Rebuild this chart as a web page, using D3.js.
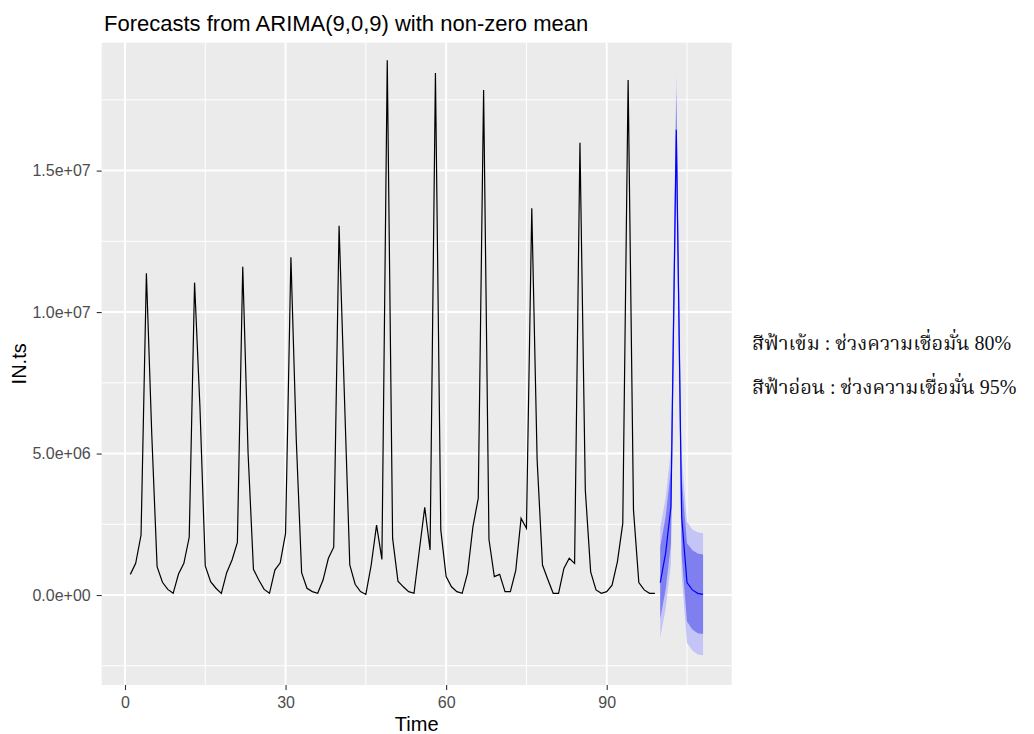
<!DOCTYPE html>
<html>
<head>
<meta charset="utf-8">
<script src="https://cdn.jsdelivr.net/npm/d3@7"></script>
<style>
  body { margin: 0; background: #fff; }
  text { font-family: "Liberation Sans", Arial, sans-serif; }
</style>
</head>
<body>
<script>
// observed series IN.ts (t = 1..99), seasonal with period 9
const observed = [
  730000, 1120000, 2120000, 11370000, 5700000, 1000000, 450000, 200000, 60000,
  740000, 1120000, 2040000, 11040000, 6660000, 1030000, 470000, 240000, 60000,
  790000, 1240000, 1860000, 11600000, 5000000, 910000, 530000, 200000, 60000,
  880000, 1140000, 2180000, 11940000, 5500000, 790000, 240000, 120000, 60000,
  530000, 1300000, 1690000, 13050000, 7000000, 1060000, 380000, 120000, 20000,
  1060000, 2470000, 1260000, 18900000, 2000000, 490000, 290000, 120000, 60000,
  1590000, 3100000, 1590000, 18450000, 2300000, 650000, 290000, 120000, 60000,
  770000, 2410000, 3420000, 17850000, 1970000, 650000, 730000, 120000, 120000,
  860000, 2710000, 2360000, 13670000, 4770000, 1060000, 550000, 60000, 60000,
  940000, 1300000, 1120000, 15980000, 3710000, 820000, 180000, 60000, 120000,
  350000, 1180000, 2530000, 18200000, 3000000, 440000, 180000, 60000, 60000
];
const obsStart = 1;

// forecasts t = 100..108
const fcStart = 100;
const fcMean = [440000, 1470000, 3120000, 16440000, 2770000, 440000, 180000, 60000, 20000];
const lo80 = [-830000, 190000, 1800000, 15100000, 1400000, -940000, -1220000, -1350000, -1380000];
const hi80 = [1710000, 2750000, 4440000, 17800000, 4140000, 1830000, 1580000, 1470000, 1430000];
const lo95 = [-1500000, -490000, 1100000, 14400000, 670000, -1690000, -1960000, -2100000, -2130000];
const hi95 = [2380000, 3430000, 5140000, 18500000, 4870000, 2590000, 2320000, 2220000, 2180000];

const xMajor = [0, 30, 60, 90];
const xMinor = [15, 45, 75, 105];
const yMajor = [0, 5e6, 1e7, 1.5e7];
const yMinor = [-2.5e6, 2.5e6, 7.5e6, 1.25e7, 1.75e7];
const yTickLabels = ["0.0e+00", "5.0e+06", "1.0e+07", "1.5e+07"];
const yLimits = [-3.18e6, 19.52e6];

const titleText = "Forecasts from ARIMA(9,0,9) with non-zero mean";
const noteLines = ["สีฟ้าเข้ม : ช่วงความเชื่อมั่น 80%", "สีฟ้าอ่อน : ช่วงความเชื่อมั่น 95%"];

const width = 1034, height = 734;
const panel = {left: 101.7, right: 731.7, top: 42.7, bottom: 685};

const obsData = observed.map((v, i) => ({t: obsStart + i, v: v}));
const fcData = fcMean.map((v, i) => ({
  t: fcStart + i, v: v, lo80: lo80[i], hi80: hi80[i], lo95: lo95[i], hi95: hi95[i]
}));

// x scale with ggplot's 5% expansion
const tExt = [obsStart, fcStart + fcMean.length - 1];
const pad = (tExt[1] - tExt[0]) * 0.05;
const x = d3.scaleLinear().domain([tExt[0] - pad, tExt[1] + pad]).range([panel.left, panel.right]);
const y = d3.scaleLinear().domain(yLimits).range([panel.bottom, panel.top]);

const svg = d3.select("body").append("svg")
    .attr("width", width)
    .attr("height", height);

svg.append("rect")
    .attr("x", panel.left).attr("y", panel.top)
    .attr("width", panel.right - panel.left)
    .attr("height", panel.bottom - panel.top)
    .attr("fill", "#EBEBEB");

// grid
const grid = svg.append("g");
grid.selectAll(".ymin").data(yMinor).enter().append("line")
    .attr("x1", panel.left).attr("x2", panel.right)
    .attr("y1", d => y(d)).attr("y2", d => y(d))
    .attr("stroke", "#fff").attr("stroke-width", 1);
grid.selectAll(".xmin").data(xMinor).enter().append("line")
    .attr("y1", panel.top).attr("y2", panel.bottom)
    .attr("x1", d => x(d)).attr("x2", d => x(d))
    .attr("stroke", "#fff").attr("stroke-width", 1);
grid.selectAll(".ymaj").data(yMajor).enter().append("line")
    .attr("x1", panel.left).attr("x2", panel.right)
    .attr("y1", d => y(d)).attr("y2", d => y(d))
    .attr("stroke", "#fff").attr("stroke-width", 2);
grid.selectAll(".xmaj").data(xMajor).enter().append("line")
    .attr("y1", panel.top).attr("y2", panel.bottom)
    .attr("x1", d => x(d)).attr("x2", d => x(d))
    .attr("stroke", "#fff").attr("stroke-width", 2);

// prediction intervals
const area95 = d3.area().x(d => x(d.t)).y0(d => y(d.lo95)).y1(d => y(d.hi95));
const area80 = d3.area().x(d => x(d.t)).y0(d => y(d.lo80)).y1(d => y(d.hi80));
svg.append("path").datum(fcData).attr("d", area95).attr("fill", "#C4C4F6");
svg.append("path").datum(fcData).attr("d", area80).attr("fill", "#7F7FEF");

const line = d3.line().x(d => x(d.t)).y(d => y(d.v));
svg.append("path").datum(obsData).attr("d", line)
    .attr("fill", "none").attr("stroke", "#000").attr("stroke-width", 1.2);
svg.append("path").datum(fcData).attr("d", line)
    .attr("fill", "none").attr("stroke", "#0000FF").attr("stroke-width", 1.2);

// axes
const xAxis = d3.axisBottom(x).tickValues(xMajor).tickSize(5).tickPadding(7);
const gx = svg.append("g")
    .attr("transform", `translate(0,${panel.bottom})`)
    .call(xAxis);
const yAxis = d3.axisLeft(y).tickValues(yMajor).tickSize(5).tickPadding(6)
    .tickFormat((d, i) => yTickLabels[i]);
const gy = svg.append("g")
    .attr("transform", `translate(${panel.left},0)`)
    .call(yAxis);
[gx, gy].forEach(g => {
  g.select(".domain").remove();
  g.selectAll(".tick line").attr("stroke", "#333").attr("stroke-width", 1.1);
  g.selectAll(".tick text").attr("fill", "#4D4D4D").style("font-size", "16px")
      .style("font-family", "'Liberation Sans', Arial, sans-serif");
});

// titles
svg.append("text")
    .attr("x", 104).attr("y", 31)
    .style("font-size", "22px").attr("fill", "#000")
    .text(titleText);
svg.append("text")
    .attr("x", (panel.left + panel.right) / 2).attr("y", 731)
    .attr("text-anchor", "middle")
    .style("font-size", "20px")
    .text("Time");
svg.append("text")
    .attr("transform", `translate(26,${(panel.top + panel.bottom) / 2}) rotate(-90)`)
    .attr("text-anchor", "middle")
    .style("font-size", "20px")
    .text("IN.ts");

// note on the right
svg.selectAll(".note").data(noteLines).enter().append("text")
    .attr("x", 752).attr("y", (d, i) => 350 + i * 44)
    .style("font-family", "'Liberation Serif', 'Norasi', 'Noto Serif Thai', serif")
    .style("font-size", "20px")
    .attr("fill", "#111")
    .text(d => d);
</script>
</body>
</html>
